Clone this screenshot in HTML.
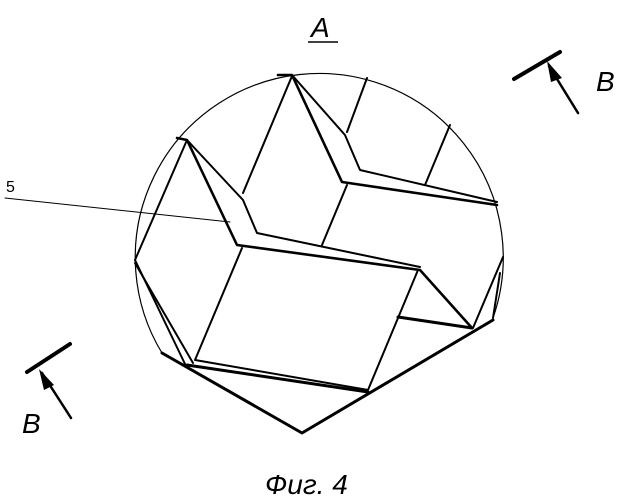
<!DOCTYPE html>
<html><head><style>body{margin:0;background:#fff}svg{display:block}</style></head><body>
<svg width="627" height="500" viewBox="0 0 627 500" xmlns="http://www.w3.org/2000/svg" font-family="Liberation Sans, sans-serif">
<g fill="none" stroke="#000" stroke-linecap="round" stroke-linejoin="round">
<path d="M162,353 A184,184 0 1 1 493,318" stroke-width="1.2"/>
<path d="M162,353 L302,433 L493,320" stroke-width="3"/>
<path d="M164,351 L302,430 L491,318" stroke="#fff" stroke-width="0.9"/>
<g stroke-width="2">
<path d="M278,75 L292,75 L342,182 L497,205" stroke-width="2.6"/>
<path d="M292,75 L345,135 L360,170 L497,202"/>
<path d="M177,138 L187,140 L237,245 L420,270 L472,328" stroke-width="2.6"/>
<path d="M187,140 L243,200 L257,233 L420,267"/>
<path d="M367,78 L347,132"/>
<path d="M450,125 L425,185"/>
<path d="M243,193 L292,76"/>
<path d="M187,140 L135,260"/>
<path d="M322,245 L347,185"/>
<path d="M242,248 L195,360 L368,390 L418,270"/>
<path d="M135,260 L185,364"/>
<path d="M135,263 L193,363"/>
<path d="M187,365 L368,392" stroke-width="3"/>
<path d="M503,257 L473,328"/>
<path d="M500,273 L493,318"/>
<path d="M398,317 L472,328" stroke-width="3"/>
</g>
<path d="M5,198 L230,222" stroke-width="1"/>
<path d="M514,79 L560,52 M27,372 L70,344" stroke-width="4"/>
<path d="M578,113 L549,66 M71,418 L42,373" stroke-width="2.5"/>
</g>
<path d="M547,61 L562,78 L551,82 Z M39,369 L54,385 L44,390 Z" fill="#000"/>
<g font-style="italic" fill="#000">
<text x="311" y="37" font-size="28">A</text>
<text x="596" y="91" font-size="28">B</text>
<text x="22" y="433" font-size="28">B</text>
<text x="265" y="494" font-size="28">Фиг. 4</text>
</g>
<path d="M308,42 L338,42" stroke="#000" stroke-width="1.5"/>
<text x="6" y="192" font-size="16" fill="#000">5</text>
</svg>
</body></html>
